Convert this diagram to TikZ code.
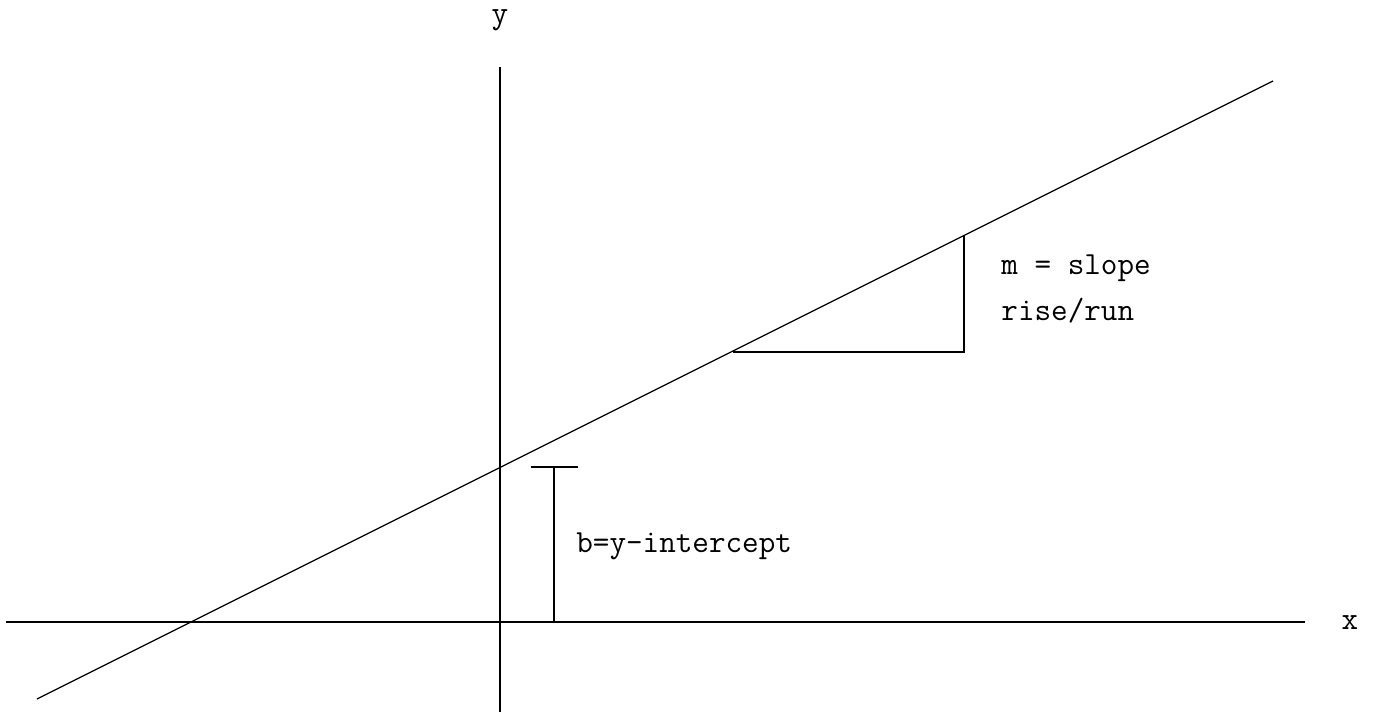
\documentclass[tikz,border=0pt]{standalone}
\begin{document}
\begin{tikzpicture}[x=0.5pt,y=-0.5pt,
  ln/.style={draw=black,line width=0.65pt},
  lbl/.style={inner sep=0pt,anchor=base west,font=\ttfamily\fontsize{16.1pt}{18pt}\selectfont}]
\useasboundingbox (0,0) rectangle (1374,713);
% axes
\coordinate (xl) at (6,622);
\coordinate (xr) at (1305,622);
\coordinate (yt) at (500,67);
\coordinate (yb) at (500,712);
\draw[ln] (xl) -- (xr);
\draw[ln] (yt) -- (yb);
\node[lbl,anchor=base] (xlab) at (1350,629) {x};
\node[lbl,anchor=base] (ylab) at (500,23) {y};
% line
\coordinate (l1) at (37,699);
\coordinate (l2) at (1273,81);
\draw[ln] (l1) -- (l2);
% slope triangle
\coordinate (t1) at (733,352);
\coordinate (t2) at (964,352);
\coordinate (t3) at (964,235.5);
\draw[ln] (t1) -- (t2) -- (t3);
\node[lbl] (m) at (1001,274) {m = slope};
\node[lbl] (r) at (1001,320) {rise/run};
% intercept
\coordinate (b0) at (554,622);
\coordinate (b1) at (554,467);
\coordinate (bl) at (531,467);
\coordinate (br) at (578,467);
\draw[ln] (b0) -- (b1);
\draw[ln] (bl) -- (br);
\node[lbl] (b) at (576,552) {b=y-intercept};
\end{tikzpicture}
\end{document}
